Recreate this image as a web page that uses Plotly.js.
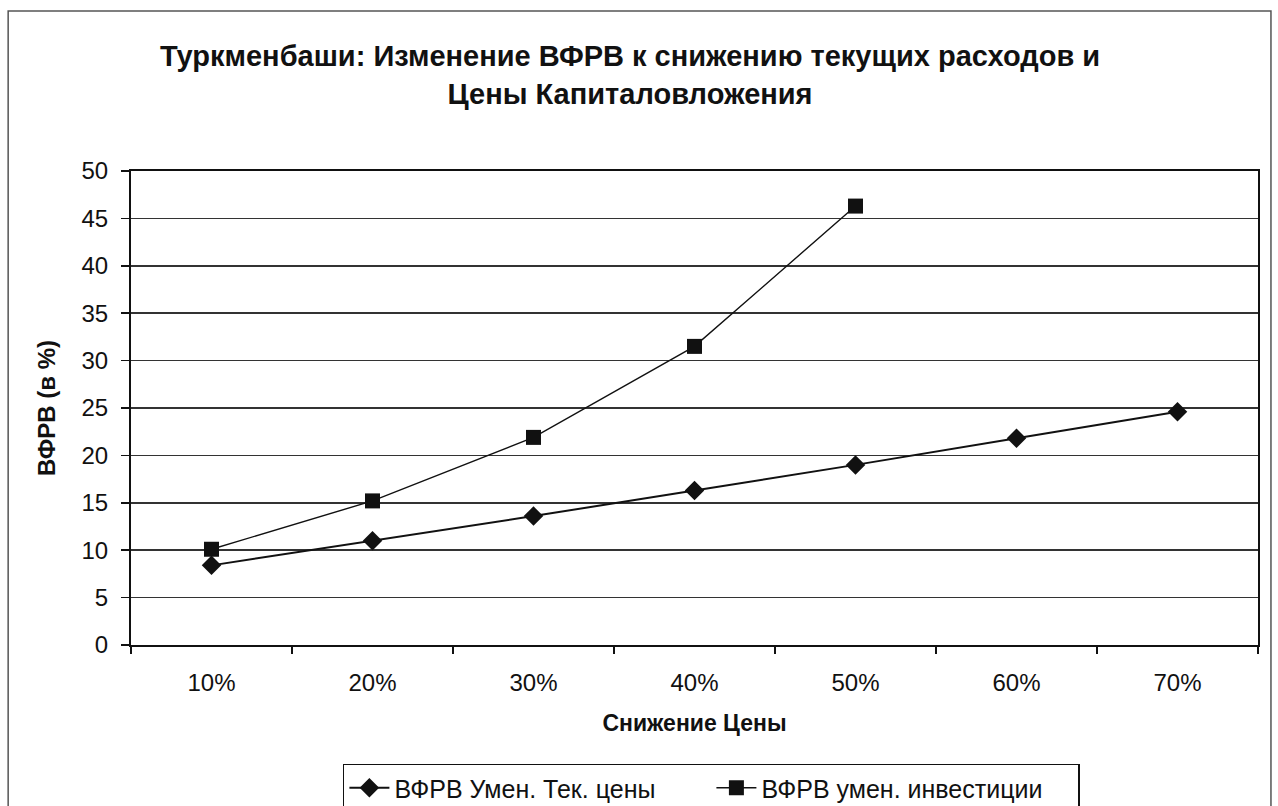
<!DOCTYPE html>
<html>
<head>
<meta charset="utf-8">
<script src="https://cdn.plot.ly/plotly-3.0.1.min.js"></script>
<style>
  html, body { margin: 0; padding: 0; background: #ffffff; }
  #chart { width: 1278px; height: 806px; }
</style>
</head>
<body>
<div id="chart"></div>
<script>
// Снижение цены (категории оси X)
const categories = ['10%', '20%', '30%', '40%', '50%', '60%', '70%'];

// ВФРВ при уменьшении текущих цен
const currentCostSeries = [8.4, 11.0, 13.6, 16.3, 19.0, 21.8, 24.6];
// ВФРВ при уменьшении инвестиций (данные до 50%)
const investmentCategories = ['10%', '20%', '30%', '40%', '50%'];
const investmentSeries = [10.1, 15.2, 21.9, 31.5, 46.3];

const seriesNames = ['ВФРВ Умен. Тек. цены', 'ВФРВ умен. инвестиции'];

const FONT = '"Liberation Sans", Arial, sans-serif';
const INK = '#111111';

const traces = [
  {
    x: categories,
    y: currentCostSeries,
    name: seriesNames[0],
    type: 'scatter',
    mode: 'lines+markers',
    line: { color: INK, width: 2 },
    marker: { symbol: 'diamond', size: 15, color: INK }
  },
  {
    x: investmentCategories,
    y: investmentSeries,
    name: seriesNames[1],
    type: 'scatter',
    mode: 'lines+markers',
    line: { color: INK, width: 1.4 },
    marker: { symbol: 'square', size: 15, color: INK }
  }
];

const layout = {
  width: 1278,
  height: 806,
  margin: { l: 131, r: 20, t: 171, b: 161, autoexpand: false },
  paper_bgcolor: '#ffffff',
  plot_bgcolor: '#ffffff',
  font: { family: FONT, color: INK, size: 22 },
  showlegend: true,
  title: {
    text: '<b>Туркменбаши: Изменение ВФРВ к снижению текущих расходов и<br>Цены Капиталовложения</b>',
    font: { family: FONT, size: 29, color: INK },
    x: 0.493,
    xanchor: 'center',
    xref: 'container',
    y: 1 - 66 / 806,
    yanchor: 'top',
    yref: 'container'
  },
  xaxis: {
    type: 'category',
    categoryorder: 'array',
    categoryarray: categories,
    range: [-0.5, 6.5],
    showgrid: false,
    zeroline: false,
    showline: true,
    mirror: true,
    linecolor: INK,
    linewidth: 2,
    ticks: 'outside',
    tickson: 'boundaries',
    ticklen: 7,
    tickwidth: 1.5,
    tickcolor: INK,
    ticklabelstandoff: 15,
    tickfont: { family: FONT, size: 24, color: INK },
    title: {
      text: '<b>Снижение Цены</b>',
      font: { family: FONT, size: 23, color: INK },
      standoff: 20
    },
    fixedrange: true
  },
  yaxis: {
    range: [0, 50],
    dtick: 5,
    tick0: 0,
    showgrid: true,
    gridcolor: '#333333',
    gridwidth: 1.6,
    zeroline: false,
    showline: true,
    mirror: true,
    linecolor: INK,
    linewidth: 2,
    ticks: 'outside',
    ticklen: 8,
    tickwidth: 1.5,
    tickcolor: INK,
    ticklabelstandoff: 8,
    tickfont: { family: FONT, size: 24, color: INK },
    title: {
      text: '<b>ВФРВ (в %)</b>',
      font: { family: FONT, size: 24, color: INK },
      standoff: 19
    },
    fixedrange: true
  },
  legend: {
    orientation: 'h',
    x: 0.515,
    xanchor: 'center',
    y: -0.25,
    yanchor: 'top',
    bgcolor: '#ffffff',
    bordercolor: INK,
    borderwidth: 1.5,
    font: { family: FONT, size: 25, color: INK },
    itemwidth: 40,
    entrywidth: 312,
    entrywidthmode: 'pixels',
    tracegroupgap: 0
  },
  shapes: [
    {
      type: 'rect',
      xref: 'paper', yref: 'paper',
      x0: -0.109, x1: 1.0115,
      y0: -0.5, y1: 1.3376,
      line: { color: '#555555', width: 1.5 },
      fillcolor: 'rgba(0,0,0,0)',
      layer: 'below'
    }
  ]
};

Plotly.newPlot('chart', traces, layout, { displayModeBar: false, staticPlot: true });
</script>
</body>
</html>
